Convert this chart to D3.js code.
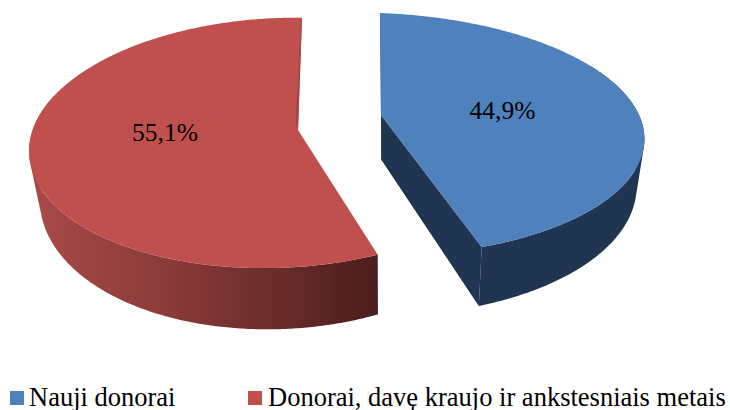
<!DOCTYPE html>
<html><head><meta charset="utf-8">
<script src="https://cdnjs.cloudflare.com/ajax/libs/d3/7.8.5/d3.min.js"></script>
<style>html,body{margin:0;padding:0;background:#fff;overflow:hidden}svg{display:block}</style>
</head><body><svg id="c" width="730" height="410"></svg>
<script>
const categories = ["Nauji donorai", "Donorai, davę kraujo ir ankstesniais metais"];
const values = [44.9, 55.1];
const labels = ["44,9%", "55,1%"];
const topColors = ["#4F81BD", "#C0504D"];

// projection of each exploded slice's unit circle onto the page (a homography)
const views = [
  {ax:381, ay:115, A:272.6, B:-1.1, C:5.2, D:-118.4, p:0.1604, u:0.0484},
  {ax:298, ay:130, A:248, B:4.4, C:-5, D:-123.5, p:0.1, u:0.071}
];
const labelPos = [[502.5,119],[165,141]];
const legendPos = [[10,29],[248,268]];

const svg = d3.select("#c");
const defs = svg.append("defs");
const g0 = defs.append("linearGradient").attr("id","redWall").attr("gradientUnits","userSpaceOnUse")
  .attr("x1",30).attr("x2",378).attr("y1",0).attr("y2",0);
[[0,"#A94A48"],[0.35,"#8E3D3B"],[0.7,"#6B2C2B"],[1,"#4A1E1D"]].forEach(s=>g0.append("stop").attr("offset",s[0]).attr("stop-color",s[1]));

const pie = d3.pie().sort(null)(values);
const project = (v,a)=>{
  const s=Math.sin(a),c=Math.cos(a),w=1+v.p*c+v.u*s;
  return [v.ax+(v.A*s+v.B*c)/w, v.ay+(v.C*s+v.D*c)/w];
};
const drop = ([x,y])=>[x-0.03*(x-385), y+60-(257-y)*0.11];
const line = d3.line();
const arcPts=(v,a0,a1)=>{const n=Math.max(2,Math.ceil(Math.abs(a1-a0)/0.01));return d3.range(n+1).map(i=>project(v,a0+(a1-a0)*i/n));};

// draw red slice first, then blue
[1,0].forEach(i=>{
  const d=pie[i], v=views[i];
  const a0=d.startAngle, a1=d.endAngle;
  const ap=[v.ax,v.ay], rim=arcPts(v,a0,a1);
  const g=svg.append("g");
  const wallFill = i===0 ? "#1F3552" : "url(#redWall)";
  // outer wall: only the part turned to the viewer; equally wound quads in one path
  const wall = i===0 ? arcPts(v,Math.PI/3,a1) : arcPts(v,a0,Math.PI*1.6);
  const wallPath = d3.pairs(wall).map(([p,q])=>{
    const quad=[p,q,drop(q),drop(p)];
    return line(d3.polygonArea(quad)<0 ? quad.reverse() : quad)+"Z";
  }).join("");
  g.append("path").attr("d",wallPath).attr("fill",wallFill);
  if(i===0){
    const e=rim[rim.length-1];
    g.append("path").attr("d",line([ap,e,drop(e),drop(ap)])+"Z").attr("fill","#1F3552");
    g.append("path").attr("d",line([ap,rim[0],[rim[0][0]+1,rim[0][1]+2],drop(ap)])+"Z").attr("fill","#1F3552");
  }
  g.append("path").attr("d",line([ap].concat(rim))+"Z").attr("fill",topColors[i]);
  if(i===1){
    const e=rim[rim.length-1];
    g.append("path").attr("d",line([e,ap,[ap[0]-2.5,ap[1]-8],[e[0]-1,e[1]+3]])+"Z").attr("fill","#A64543");
  }
  svg.append("text").attr("x",labelPos[i][0]).attr("y",labelPos[i][1]).attr("text-anchor","middle")
    .attr("font-family","'Liberation Serif'").attr("font-size",25.5).attr("fill","#000").text(labels[i]);
});

categories.forEach((c,i)=>{
  svg.append("rect").attr("x",legendPos[i][0]).attr("y",391).attr("width",14).attr("height",14).attr("fill",topColors[i]);
  svg.append("text").attr("x",legendPos[i][1]).attr("y",405.5).attr("font-family","'Liberation Serif'")
    .attr("font-size",26.5).attr("fill","#000").text(c);
});
</script></body></html>
